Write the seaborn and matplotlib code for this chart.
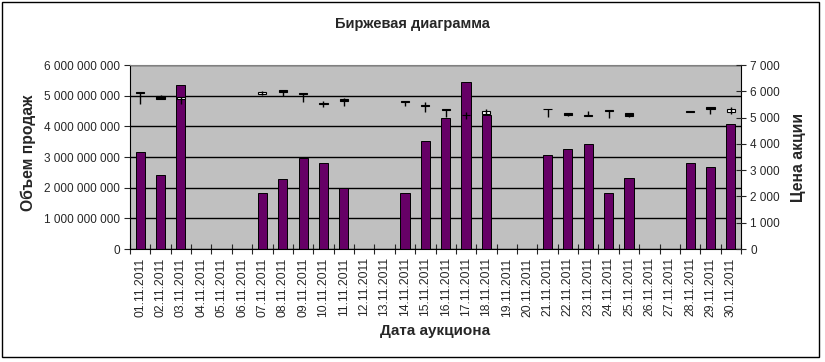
import matplotlib
matplotlib.use('Agg')
import matplotlib.pyplot as plt
import matplotlib.ticker as mticker
from matplotlib.patches import Rectangle
import numpy as np
import pandas as pd
import seaborn as sns

nan = np.nan
dates = ['%02d.11.2011' % d for d in range(1, 31)]

volume = [3.16e9, 2.42e9, 5.36e9, nan, nan, nan, 1.83e9, 2.27e9, 2.98e9, 2.81e9,
          1.99e9, nan, nan, 1.83e9, 3.53e9, 4.28e9, 5.46e9, 4.37e9, nan, nan,
          3.06e9, 3.27e9, 3.42e9, 1.81e9, 2.30e9, nan, nan, 2.79e9, 2.69e9, 4.08e9]

open_ = [5960, 5830, 5690, nan, nan, nan, 5880, 6030, 5930, 5540,
         5715, nan, nan, 5630, 5460, 5320, 5090, 5150, nan, nan,
         5330, 5170, 5080, 5270, 5160, nan, nan, 5240, 5400, 5230]
high = [5975, 5840, 5800, nan, nan, nan, 6020, 6040, 5940, 5640,
        5730, nan, nan, 5640, 5580, 5330, 5230, 5330, nan, nan,
        5340, 5180, 5260, 5280, 5170, nan, nan, 5260, 5410, 5420]
low = [5530, 5700, 5500, nan, nan, nan, 5850, 5830, 5580, 5420,
       5430, nan, nan, 5450, 5230, 5040, 4940, 5120, nan, nan,
       5020, 5060, 5060, 4990, 5040, nan, nan, 5200, 5150, 5120]
close = [5940, 5720, 5780, nan, nan, nan, 5990, 5970, 5900, 5520,
         5620, nan, nan, 5580, 5440, 5280, 5080, 5240, nan, nan,
         5310, 5080, 5060, 5250, 5050, nan, nan, 5220, 5340, 5320]

sns.set_style('white')
plt.rcParams['font.family'] = ['Liberation Sans', 'DejaVu Sans']

fig = plt.figure(figsize=(8.25, 3.62), dpi=100)
ax = fig.add_axes([130/825, 1-249/362, 611/825, 184/362])
ax.set_facecolor('#c0c0c0')

df = pd.DataFrame({'date': dates, 'volume': volume})
sns.barplot(data=df, x='date', y='volume', order=dates, ax=ax, color='#660066',
            saturation=1, width=0.45, edgecolor='black', linewidth=0.7, errorbar=None)

ax.set_ylim(0, 6e9)
ax.set_xlim(-0.5, 29.5)
ax.yaxis.set_major_locator(mticker.MultipleLocator(1e9))
fmt = mticker.FuncFormatter(lambda v, p: '{:,.0f}'.format(v).replace(',', ' '))
ax.yaxis.set_major_formatter(fmt)
ax.grid(axis='y', color='black', linewidth=1)
ax.set_axisbelow(True)
ax.tick_params(axis='y', direction='out', length=4, width=0.8, labelsize=8.5, pad=3, left=True)
ax.set_xticks(range(30))
ax.set_xticklabels(dates, rotation=90, fontsize=8.7)
ax.xaxis.set_minor_locator(mticker.FixedLocator(np.arange(-0.5, 30, 1)))
ax.tick_params(axis='x', which='major', length=0, pad=6)
ax.tick_params(axis='x', which='minor', direction='inout', length=7, width=0.8, bottom=True)
for s in ['left', 'bottom', 'right']:
    ax.spines[s].set_color('black')
    ax.spines[s].set_linewidth(0.8)
ax.spines['top'].set_color('#808080')

ax.set_xlabel('Дата аукциона', fontsize=11, fontweight='bold')
ax.xaxis.set_label_coords(0.5, -0.405)
ax.set_ylabel('Объем продаж', fontsize=11.3, fontweight='bold')
ax.yaxis.set_label_coords(-0.154, 0.525)

ax2 = ax.twinx()
ax2.set_ylim(0, 7000)
ax2.yaxis.set_major_locator(mticker.MultipleLocator(1000))
ax2.yaxis.set_major_formatter(fmt)
ax2.tick_params(axis='y', direction='inout', length=7, width=0.8, labelsize=8.5, pad=3, right=True)
for s in ax2.spines.values():
    s.set_visible(False)

o = np.array(open_)
c = np.array(close)
x = np.arange(30)
ax2.vlines(x, low, high, color='black', linewidth=1)
up = c >= o
ax2.bar(x[up], (c - o)[up], bottom=o[up], width=0.4, color='white', edgecolor='black', linewidth=0.8)
ax2.bar(x[~up], (o - c)[~up], bottom=c[~up], width=0.4, color='black', edgecolor='black', linewidth=0.8)
ax2.set_ylabel('Цена акции', fontsize=11.3, fontweight='bold')
ax2.yaxis.set_label_coords(1.082, 0.5)

fig.text(412/825, 1-24/362, 'Биржевая диаграмма', ha='center', va='center', fontsize=10.5, fontweight='bold')
fig.patches.append(Rectangle((2/825, 1-357/362), 817/825, 355/362, transform=fig.transFigure,
                             fill=False, edgecolor='black', linewidth=1))

fig.savefig('out.png', dpi=100)
